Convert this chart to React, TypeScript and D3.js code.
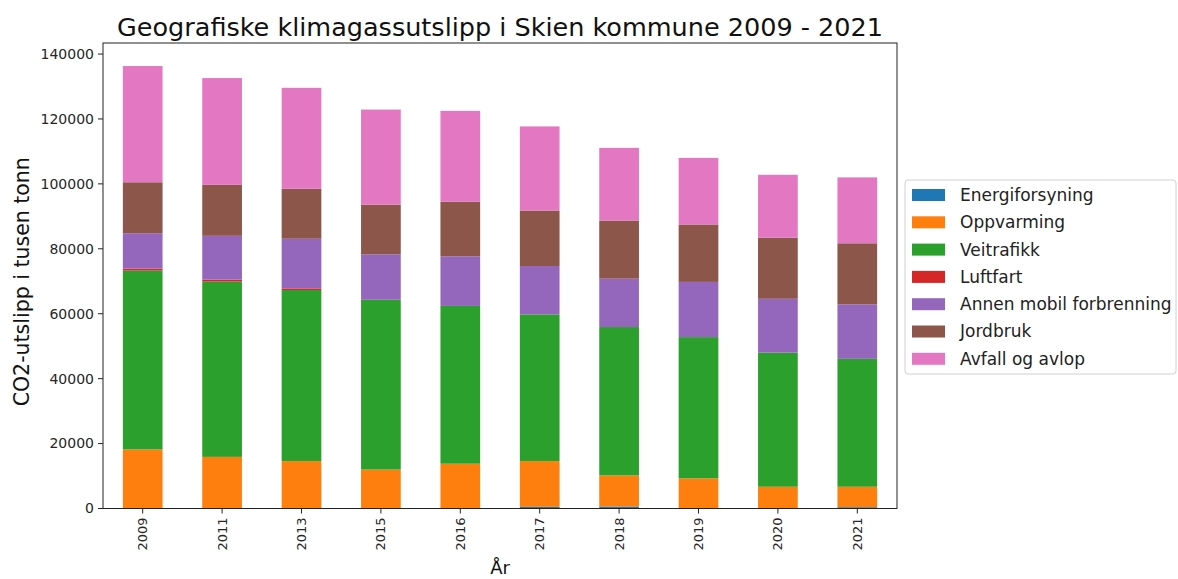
import React from "react";
import * as d3 from "d3";

const years = ["2009", "2011", "2013", "2015", "2016", "2017", "2018", "2019", "2020", "2021"];
const seriesNames = ["Energiforsyning", "Oppvarming", "Veitrafikk", "Luftfart", "Annen mobil forbrenning", "Jordbruk", "Avfall og avlop"];
const colors = ["#1f77b4", "#ff7f0e", "#2ca02c", "#d62728", "#9467bd", "#8c564b", "#e377c2"];

const energiforsyning = [0, 0, 0, 0, 0, 500, 600, 0, 0, 400];
const oppvarming = [18200, 15900, 14600, 12000, 13800, 14100, 9600, 9300, 6700, 6300];
const veitrafikk = [55100, 54000, 52700, 52300, 48600, 45200, 45700, 43500, 41300, 39400];
const luftfart = [600, 600, 500, 0, 0, 0, 0, 0, 0, 0];
const annenMobil = [10900, 13500, 15300, 14000, 15300, 14900, 14900, 17000, 16600, 16800];
const jordbruk = [15700, 15700, 15400, 15300, 16800, 17100, 17900, 17700, 18800, 18800];
const avfall = [35800, 32900, 31100, 29300, 28000, 25900, 22400, 20500, 19400, 20300];

const yTicks = [0, 20000, 40000, 60000, 80000, 100000, 120000, 140000];

const seriesValues = [energiforsyning, oppvarming, veitrafikk, luftfart, annenMobil, jordbruk, avfall];

export default function App() {
  const W = 1178, H = 579;
  const left = 103, right = 897, top = 43, bottom = 508.5;
  const font = "'DejaVu Sans', sans-serif";

  const rows = years.map((y, i) => {
    const r: any = { year: y };
    seriesNames.forEach((s, k) => (r[s] = seriesValues[k][i]));
    return r;
  });
  const stacked = d3.stack<any>().keys(seriesNames)(rows);

  const x = d3.scaleBand<string>().domain(years).range([left, right]).paddingInner(0.5).paddingOuter(0.25);
  const y = d3.scaleLinear().domain([0, 143400]).range([bottom, top]);

  return (
    <svg width={W} height={H} style={{ position: "absolute", left: 0, top: 0, background: "#fff" }}>
      <text x={(left + right) / 2} y={36} textAnchor="middle" fontFamily={font} fontSize={25.5} fill="#111">
        Geografiske klimagassutslipp i Skien kommune 2009 - 2021
      </text>
      {stacked.map((layer, k) => (
        <g key={k} fill={colors[k]}>
          {layer.map((d, i) => (
            <rect key={i} x={x(years[i])} width={x.bandwidth()} y={y(d[1])} height={Math.max(0, y(d[0]) - y(d[1]))} />
          ))}
        </g>
      ))}
      <rect x={left} y={top} width={right - left} height={bottom - top} fill="none" stroke="#222" strokeWidth={1} />
      {yTicks.map((t) => (
        <g key={t}>
          <line x1={left - 5} x2={left} y1={y(t)} y2={y(t)} stroke="#222" />
          <text x={left - 9} y={y(t)} dy="0.35em" textAnchor="end" fontFamily={font} fontSize={14} fill="#262626">
            {t}
          </text>
        </g>
      ))}
      {years.map((yr) => {
        const cx = x(yr)! + x.bandwidth() / 2;
        return (
          <g key={yr}>
            <line x1={cx} x2={cx} y1={bottom} y2={bottom + 5} stroke="#222" />
            <text transform={`translate(${cx},${bottom + 9}) rotate(-90)`} dy="0.35em" textAnchor="end" fontFamily={font} fontSize={13} fill="#262626">
              {yr}
            </text>
          </g>
        );
      })}
      <text transform={`translate(22,${(top + bottom) / 2 + 6}) rotate(-90)`} dy="0.35em" textAnchor="middle" fontFamily={font} fontSize={20.5} fill="#111">
        CO2-utslipp i tusen tonn
      </text>
      <text x={(left + right) / 2} y={574} textAnchor="middle" fontFamily={font} fontSize={18} fill="#111">
        År
      </text>
      <g>
        <rect x={905} y={180} width={271} height={194} rx={3} fill="#fff" stroke="#d0d0d0" />
        {seriesNames.map((s, k) => {
          const cy = 195 + k * 27.3;
          return (
            <g key={s}>
              <rect x={912} y={cy - 6} width={33} height={12} fill={colors[k]} />
              <text x={960} y={cy} dy="0.35em" fontFamily={font} fontSize={17} fill="#222">
                {s}
              </text>
            </g>
          );
        })}
      </g>
    </svg>
  );
}
